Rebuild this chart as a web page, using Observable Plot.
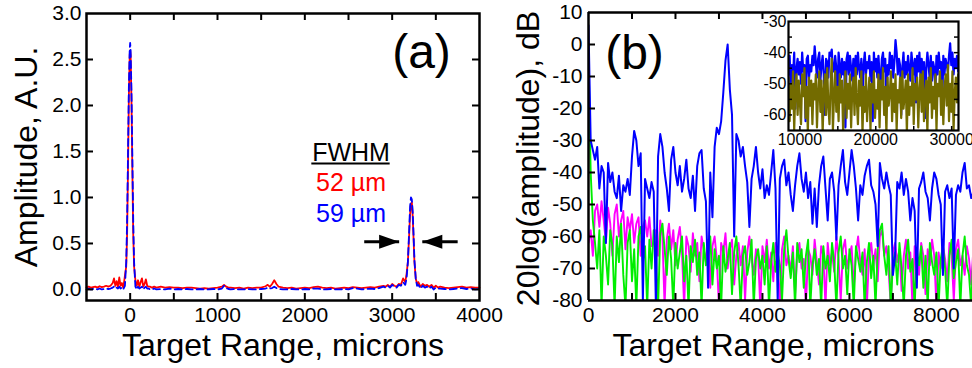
<!DOCTYPE html>
<html><head><meta charset="utf-8">
<script src="https://cdn.jsdelivr.net/npm/d3@7"></script>
<script src="https://cdn.jsdelivr.net/npm/@observablehq/plot@0.6"></script>
<style>
html,body{margin:0;padding:0;background:#fff;width:972px;height:368px;overflow:hidden;}
.panel{position:absolute;top:0;}
</style></head>
<body>
<div id="pb" class="panel" style="left:490px;width:482px;height:368px"></div>
<div id="pa" class="panel" style="left:0;width:490px;height:368px"></div>
<div id="pi" class="panel" style="left:740px;width:232px;height:150px"></div>
<script>
// ---------- Panel (a): amplitude vs target range ----------
const aX = [
  -500,-475,-450,-425,-400,-375,-350,-325,-300,-275,-250,
  -225,-200,-185,-170,-155,-140,-125,-110,-95,-80,-70,
  -60,-45,-35,-25,-15,-5,0,5,15,25,35,45,60,
  75,90,105,120,135,150,165,180,195,210,230,250,275,300,
  350,400,450,500,550,600,650,700,750,800,850,900,950,1000,
  1050,1075,1100,1125,
  1150,1200,1250,1300,1350,1400,1450,1500,1550,
  1575,1600,1625,1650,1675,1700,
  1750,1800,1850,1900,1950,2000,2050,2100,2150,2200,2250,2300,2350,2400,2450,2500,2550,2600,2650,2700,2750,2800,2850,
  2900,2925,2950,2975,3000,3025,3050,3075,3100,3125,
  3150,3165,3180,3195,3205,3215,3225,3235,3245,3255,3270,3285,3300,
  3325,3350,3375,3400,3425,3450,3475,3500,3525,3550,
  3600,3650,3700,3750,3800,3850,3900,3950,4000
];
const aRed = [
  0.02,0.03,0.02,0.025,0.03,0.02,0.035,0.025,0.03,0.04,0.03,
  0.04,0.07,0.12,0.04,0.09,0.03,0.13,0.04,0.07,0.02,0.08,
  0.15,0.25,0.6,1.3,2.1,2.55,2.6,2.55,2.05,1.3,0.6,0.25,0.1,
  0.04,0.1,0.03,0.08,0.12,0.03,0.06,0.11,0.04,0.03,0.03,0.02,0.03,0.02,
  0.03,0.02,0.025,0.02,0.02,0.015,0.02,0.02,0.015,0.01,0.015,0.01,0.015,0.02,
  0.03,0.05,0.03,0.02,
  0.02,0.015,0.02,0.01,0.02,0.015,0.02,0.02,0.035,
  0.05,0.03,0.06,0.1,0.06,0.03,
  0.02,0.015,0.02,0.01,0.015,0.02,0.015,0.025,0.03,0.02,0.015,0.02,0.01,0.015,0.02,0.015,0.025,0.02,0.015,0.02,0.025,0.02,0.03,
  0.04,0.03,0.05,0.03,0.06,0.04,0.03,0.06,0.05,0.12,
  0.08,0.17,0.3,0.6,0.82,0.93,0.95,0.8,0.55,0.3,0.12,0.06,0.08,
  0.03,0.06,0.04,0.05,0.03,0.05,0.02,0.04,0.02,0.03,
  0.02,0.015,0.02,0.025,0.03,0.02,0.025,0.02,0.02
];
const aBlue = [
  0.0,0.01,0.0,0.005,0.01,0.0,0.01,0.0,0.005,0.01,0.005,
  0.01,0.02,0.03,0.01,0.02,0.01,0.03,0.01,0.02,0.0,0.02,
  0.04,0.3,0.75,1.45,2.2,2.62,2.68,2.6,2.15,1.45,0.75,0.3,0.03,
  0.0,0.03,0.01,0.02,0.03,0.0,0.02,0.03,0.01,0.01,0.0,0.0,0.01,0.0,
  0.005,0.0,0.01,0.0,0.005,0.0,0.005,0.0,0.0,0.005,0.0,0.0,0.005,0.0,
  0.01,0.04,0.015,0.005,
  0.0,0.005,0.0,0.0,0.005,0.0,0.0,0.005,0.01,
  0.02,0.01,0.015,0.03,0.015,0.005,
  0.0,0.0,0.005,0.0,0.0,0.005,0.0,0.01,0.01,0.0,0.0,0.005,0.0,0.0,0.005,0.0,0.015,0.01,0.0,0.005,0.01,0.005,0.015,
  0.03,0.02,0.04,0.02,0.05,0.03,0.02,0.05,0.04,0.08,
  0.05,0.12,0.3,0.65,0.9,1.0,0.98,0.85,0.6,0.32,0.12,0.04,0.05,
  0.01,0.04,0.02,0.03,0.01,0.03,0.0,0.02,0.01,0.01,
  0.005,0.0,0.005,0.01,0.015,0.005,0.01,0.0,0.005
];
const aXLabels = [0, 1000, 2000, 3000, 4000];
const aXMinor = [0, 500, 1000, 1500, 2000, 2500, 3000, 3500];
const aYLabels = [0, 0.5, 1.0, 1.5, 2.0, 2.5, 3.0];
const aYMinor = [0, 0.5, 1.0, 1.5, 2.0, 2.5];
const fwhmNotes = [
  {label: "FWHM", color: "#000000", x: 2529, y: 1.40},
  {label: "52 µm", color: "#ff0000", x: 2529, y: 1.065},
  {label: "59 µm", color: "#0000ff", x: 2529, y: 0.728}
];
const fwhmArrows = [{from: 2680, to: 3080, dir: 1}, {from: 3750, to: 3345, dir: -1}];
const arrowLevel = 0.52;

// ---------- Panel (b): 20log(amplitude) ----------
const bStep = 50; // microns between samples, starting at 0
const bBlue = [
  6,-30,-33,-36,-32,-45,-38,-40,-62,-37,
  -43,-40,-46,-48,-41,-52,-44,-46,-42,-47,
  -35,-27,-30,-38,-34,-80,-42,-45,-48,-43,
  -46,-82,-35,-28,-32,-40,-45,-52,-36,-32,
  -40,-44,-38,-46,-42,-36,-45,-48,-41,-52,
  -38,-34,-33,-45,-49,-76,-40,-54,-32,-26,
  -28,-24,-15,-5,0,-14,-22,-60,-28,-30,
  -35,-32,-38,-43,-57,-42,-38,-32,-40,-45,
  -39,-48,-44,-47,-40,-33,-45,-80,-42,-38,
  -36,-44,-40,-47,-52,-44,-38,-34,-42,-46,
  -40,-48,-43,-56,-45,-57,-44,-38,-35,-45,
  -55,-42,-40,-46,-61,-44,-38,-33,-43,-47,
  -40,-33,-38,-45,-55,-44,-47,-41,-38,-36,
  -44,-46,-50,-63,-37,-42,-45,-40,-44,-47,
  -72,-66,-43,-45,-40,-47,-42,-46,-55,-48,
  -52,-76,-45,-43,-40,-46,-48,-55,-45,-40,
  -42,-47,-50,-72,-46,-44,-48,-45,-70,-47,
  -44,-46,-40,-37,-45,-44,-48,-46
];
const bMagenta = [
  -62,-58,-66,-52,-50,-57,-49,-55,-62,-51,
  -56,-66,-53,-50,-60,-55,-52,-64,-54,-58,
  -53,-62,-56,-54,-66,-57,-55,-60,-54,-63,
  -62,-58,-66,-55,-60,-82,-61,-56,-64,-58,
  -69,-61,-57,-65,-82,-60,-63,-71,-59,-66,
  -62,-74,-60,-64,-68,-61,-76,-63,-60,-67,
  -82,-62,-65,-59,-70,-64,-61,-75,-66,-62,
  -69,-63,-80,-65,-60,-67,-72,-64,-66,-82,
  -63,-68,-61,-70,-65,-74,-62,-67,-82,-64,
  -60,-69,-66,-71,-63,-78,-65,-62,-70,-67,
  -82,-64,-66,-72,-61,-68,-75,-63,-66,-82,
  -62,-69,-65,-71,-60,-67,-80,-64,-61,-70,
  -66,-63,-76,-65,-60,-68,-72,-64,-82,-66,
  -62,-69,-64,-74,-60,-58,-66,-63,-70,-82,
  -65,-62,-68,-64,-77,-66,-61,-70,-65,-82,
  -63,-67,-72,-62,-66,-78,-64,-69,-61,-66,
  -82,-65,-70,-63,-67,-74,-62,-66,-80,-64,
  -61,-69,-66,-72,-63,-67,-75,-64
];
const bGreen = [
  -3,-40,-55,-62,-70,-58,-82,-60,-66,-75,
  -58,-63,-82,-60,-68,-56,-72,-82,-62,-58,
  -74,-64,-82,-60,-57,-68,-63,-82,-61,-70,
  -58,-65,-82,-59,-56,-64,-72,-60,-67,-82,
  -62,-70,-65,-60,-74,-66,-82,-63,-68,-61,
  -72,-65,-82,-62,-69,-66,-60,-75,-64,-70,
  -66,-82,-63,-71,-67,-62,-78,-65,-60,-69,
  -82,-66,-63,-72,-68,-61,-82,-67,-64,-70,
  -66,-75,-63,-82,-68,-62,-71,-65,-69,-80,
  -64,-58,-67,-73,-65,-82,-62,-68,-64,-76,
  -66,-61,-82,-69,-64,-72,-67,-82,-63,-70,
  -66,-74,-62,-68,-82,-65,-60,-70,-66,-78,
  -64,-69,-82,-63,-67,-71,-65,-82,-68,-62,
  -73,-66,-82,-64,-58,-56,-66,-72,-63,-82,
  -68,-65,-75,-62,-70,-82,-66,-61,-71,-67,
  -82,-64,-69,-63,-76,-66,-82,-62,-68,-72,
  -65,-82,-67,-63,-70,-82,-66,-61,-73,-68,
  -64,-82,-66,-60,-69,-72,-82,-65
];
const bXLabels = [0, 2000, 4000, 6000, 8000];
const bXMinor = [1000, 2000, 3000, 4000, 5000, 6000, 7000, 8000];
const bYLabels = [-80, -70, -60, -50, -40, -30, -20, -10, 0, 10];
const bYMinor = [-70, -60, -50, -40, -30, -20, -10, 0];

// ---------- Inset: far range ----------
const iStart = 8500, iStep = 150;
const iBlue = [
  -47,-41,-52,-44,-48,-40,-58,-45,-42,-47,
  -43,-50,-40,-46,-44,-62,-42,-41,-48,-44,
  -46,-41,-44,-38,-43,-48,-42,-40,-49,-44,
  -41,-47,-60,-42,-43,-48,-40,-41,-39,-46,
  -46,-41,-45,-57,-40,-44,-48,-42,-47,-43,
  -64,-42,-40,-47,-41,-45,-49,-42,-50,-41,
  -47,-40,-45,-48,-42,-55,-44,-40,-47,-43,
  -45,-41,-49,-43,-62,-40,-46,-42,-48,-41,
  -47,-51,-42,-40,-46,-42,-58,-44,-47,-40,
  -45,-41,-48,-43,-36,-40,-47,-42,-44,-60,
  -45,-40,-48,-43,-47,-41,-45,-49,-40,-44,
  -47,-42,-56,-41,-46,-40,-48,-42,-47,-43,
  -61,-45,-40,-44,-48,-41,-49,-43,-45,-52,
  -41,-47,-40,-45,-43,-57,-41,-47,-42,-44,
  -46,-41,-37,-44,-40,-47,-42,-45,-41,-46
];
const iOlive = [
  -48,-62,-50,-58,-46,-65,-52,-47,-60,-49,
  -56,-63,-47,-54,-45,-61,-51,-66,-48,-57,
  -49,-63,-50,-55,-47,-64,-53,-46,-59,-49,
  -66,-52,-47,-60,-45,-57,-63,-50,-42,-65,
  -54,-46,-59,-51,-62,-47,-56,-49,-66,-53,
  -46,-61,-50,-58,-47,-64,-52,-48,-60,-45,
  -55,-63,-49,-57,-46,-66,-51,-59,-47,-62,
  -54,-48,-65,-50,-56,-46,-61,-52,-58,-47,
  -64,-49,-55,-45,-60,-51,-66,-48,-57,-53,
  -46,-62,-50,-59,-47,-65,-52,-56,-48,-61,
  -46,-58,-54,-49,-66,-47,-60,-51,-57,-45,
  -63,-50,-55,-48,-64,-52,-47,-59,-46,-62,
  -53,-49,-66,-48,-56,-45,-61,-51,-58,-47,
  -65,-50,-54,-46,-60,-49,-63,-52,-47,-57,
  -44,-62,-50,-59,-46,-65,-53,-48,-56,-47
];
const iXLabels = [10000, 20000, 30000];
const iXMinor = [10000, 15000, 20000, 25000, 30000];
const iYLabels = [-30, -40, -50, -60];
const iYMinor = [-60, -55, -50, -45, -40, -35];

// ---------- build ----------
const FONT = "'Liberation Sans', Arial, Helvetica, sans-serif";
const svgStyle = {fontFamily: FONT, fontSize: "21px", background: "transparent", overflow: "visible", maxWidth: "none", color: "black"};
const tickLen = 7;
const num = d => String(d);

const aRows = aX.map((x, i) => ({x, red: aRed[i], blue: aBlue[i]}));
const bRows = bBlue.map((v, i) => ({x: i * bStep, blu: v, mag: bMagenta[i], grn: bGreen[i]}));
const iRows = iBlue.map((v, i) => ({x: iStart + i * iStep, blu: v, olv: iOlive[i]}));

const arrowHead = {
  draw(ctx, size) {
    const r = Math.sqrt(size / Math.PI);
    ctx.moveTo(0, 0);
    ctx.lineTo(-2 * r, -0.7 * r);
    ctx.lineTo(-2 * r, 0.7 * r);
    ctx.closePath();
  }
};

// Panel (a)
const aM = {l: 86, r: 11, t: 13, b: 68}, aW = 490, aH = 368;
const aIW = aW - aM.l - aM.r, aIH = aH - aM.t - aM.b;
const plotA = Plot.plot({
  width: aW, height: aH, marginLeft: aM.l, marginRight: aM.r, marginTop: aM.t, marginBottom: aM.b,
  style: svgStyle,
  x: {domain: [-500, 4000], label: null},
  y: {domain: [-0.12, 3.0], label: null},
  marks: [
    Plot.line(aRows, {x: "x", y: "red", stroke: "#ff0000", strokeWidth: 1.8}),
    Plot.line(aRows, {x: "x", y: "blue", stroke: "#0000ff", strokeWidth: 1.8, strokeDasharray: "7,4"}),
    Plot.tickX(aXMinor, {x: d => d, insetTop: aIH - tickLen, strokeWidth: 2}),
    Plot.tickX(aXMinor, {x: d => d, insetBottom: aIH - tickLen, strokeWidth: 2}),
    Plot.tickY(aYMinor, {y: d => d, insetRight: aIW - tickLen, strokeWidth: 2}),
    Plot.tickY(aYMinor, {y: d => d, insetLeft: aIW - tickLen, strokeWidth: 2}),
    Plot.frame({stroke: "black", strokeWidth: 2.5}),
    Plot.axisX(aXLabels, {tickSize: 0, tickPadding: 7, fontSize: 21, tickFormat: num, label: null}),
    Plot.axisY(aYLabels, {tickSize: 0, tickPadding: 5, fontSize: 21, tickFormat: d3.format(".1f"), label: null}),
    Plot.text(["Target Range, microns"], {text: d => d, frameAnchor: "bottom", dy: 55, textAnchor: "middle", lineAnchor: "bottom", fontSize: 32}),
    Plot.text(["Amplitude, A.U."], {text: d => d, frameAnchor: "left", dx: -50, rotate: -90, textAnchor: "middle", lineAnchor: "bottom", fontSize: 32}),
    Plot.text(["(a)"], {text: d => d, frameAnchor: "top-right", dx: -58, dy: 54, textAnchor: "middle", lineAnchor: "bottom", fontSize: 48}),
    Plot.text(fwhmNotes, {x: "x", y: "y", text: "label", fill: "color", textAnchor: "middle", lineAnchor: "bottom", fontSize: 25}),
    Plot.ruleY([1.37], {x1: 2080, x2: 2977, strokeWidth: 2}),
    Plot.link(fwhmArrows, {x1: "from", x2: "to", y1: arrowLevel, y2: arrowLevel, strokeWidth: 3, stroke: "black"}),
    Plot.dot(fwhmArrows.filter(d => d.dir > 0), {x: "to", y: arrowLevel, symbol: arrowHead, r: 10, fill: "black", stroke: "none"}),
    Plot.dot(fwhmArrows.filter(d => d.dir < 0), {x: "to", y: arrowLevel, symbol: arrowHead, r: 10, rotate: 180, fill: "black", stroke: "none"})
  ]
});
document.getElementById("pa").append(plotA);

// Panel (b)
const bM = {l: 98, r: 0, t: 12, b: 68}, bW = 482, bH = 368;
const bIW = bW - bM.l - bM.r, bIH = bH - bM.t - bM.b;
const plotB = Plot.plot({
  width: bW, height: bH, marginLeft: bM.l, marginRight: bM.r, marginTop: bM.t, marginBottom: bM.b,
  style: svgStyle,
  x: {domain: [0, 8830], label: null},
  y: {domain: [-80, 10], label: null},
  marks: [
    Plot.line(bRows, {x: "x", y: "mag", stroke: "#ff00ff", strokeWidth: 1.9, clip: true}),
    Plot.line(bRows, {x: "x", y: "grn", stroke: "#00ee00", strokeWidth: 1.9, clip: true}),
    Plot.line(bRows, {x: "x", y: "blu", stroke: "#0000ff", strokeWidth: 2, clip: true}),
    Plot.tickX(bXMinor, {x: d => d, insetTop: bIH - tickLen, strokeWidth: 2}),
    Plot.tickX(bXMinor, {x: d => d, insetBottom: bIH - tickLen, strokeWidth: 2}),
    Plot.tickY(bYMinor, {y: d => d, insetRight: bIW - tickLen, strokeWidth: 2}),
    Plot.ruleY([10, -80], {strokeWidth: 2.5}),
    Plot.ruleX([0], {strokeWidth: 2.5}),
    Plot.axisX(bXLabels, {tickSize: 0, tickPadding: 7, fontSize: 21, tickFormat: num, label: null}),
    Plot.axisY(bYLabels, {tickSize: 0, tickPadding: 6, fontSize: 21, tickFormat: num, label: null}),
    Plot.text(["Target Range, microns"], {text: d => d, frameAnchor: "bottom", dx: -7, dy: 55, textAnchor: "middle", lineAnchor: "bottom", fontSize: 32}),
    Plot.text(["20log(amplitude), dB"], {text: d => d, frameAnchor: "left", dx: -50, dy: 2, rotate: -90, textAnchor: "middle", lineAnchor: "bottom", fontSize: 32}),
    Plot.text(["(b)"], {text: d => d, frameAnchor: "top-left", dx: 46, dy: 56, textAnchor: "middle", lineAnchor: "bottom", fontSize: 48})
  ]
});
document.getElementById("pb").append(plotB);

// Inset
const iM = {l: 48, r: 14, t: 21, b: 20}, iW = 232, iH = 150;
const iIW = iW - iM.l - iM.r, iIH = iH - iM.t - iM.b;
const plotI = Plot.plot({
  width: iW, height: iH, marginLeft: iM.l, marginRight: iM.r, marginTop: iM.t, marginBottom: iM.b,
  style: {...svgStyle, fontSize: "16px"},
  x: {domain: [8500, 30900], label: null},
  y: {domain: [-65, -30], label: null},
  marks: [
    Plot.frame({fill: "white", stroke: "none"}),
    Plot.line(iRows, {x: "x", y: "blu", stroke: "#0000ff", strokeWidth: 2.2, clip: true}),
    Plot.line(iRows, {x: "x", y: "olv", stroke: "#736b00", strokeWidth: 2.2, clip: true}),
    Plot.tickY(iYMinor, {y: d => d, insetRight: iIW - 4, strokeWidth: 1.5}),
    Plot.tickY(iYMinor, {y: d => d, insetLeft: iIW - 4, strokeWidth: 1.5}),
    Plot.tickX(iXMinor, {x: d => d, insetTop: iIH - 4, strokeWidth: 1.5}),
    Plot.frame({stroke: "black", strokeWidth: 2.2}),
    Plot.axisY(iYLabels, {tickSize: 0, tickPadding: 2, fontSize: 16, tickFormat: num, label: null}),
    Plot.axisX(iXLabels, {tickSize: 0, tickPadding: 3, fontSize: 16, tickFormat: num, label: null})
  ]
});
document.getElementById("pi").append(plotI);
</script>
</body></html>
